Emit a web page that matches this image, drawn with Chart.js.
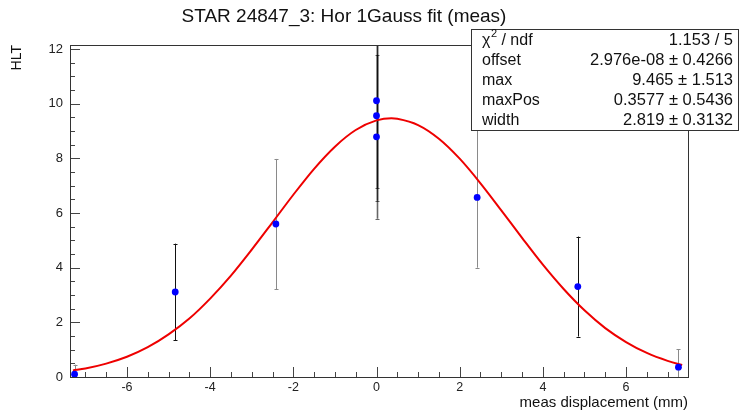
<!DOCTYPE html>
<html><head><meta charset="utf-8">
<script src="https://cdn.jsdelivr.net/npm/chart.js@4.4.0/dist/chart.umd.min.js"></script>
<style>html,body{margin:0;padding:0;background:#fff}canvas{display:block}</style>
</head><body>
<canvas id="c" width="740" height="413"></canvas>
<script>
// ---- data ----
const titleText = 'STAR 24847_3: Hor 1Gauss fit (meas)';
const xTitle = 'meas displacement (mm)';
const yTitle = 'HLT';
const measX = [-7.26, -4.84, -2.42, 0, 0, 0, 2.42, 4.84, 7.26];
const measY = [0.10, 3.11, 5.60, 10.11, 9.56, 8.79, 6.57, 3.31, 0.36];
const measErr = [0.35, 1.77, 2.38, 3.20, 3.11, 3.00, 2.57, 1.83, 0.66];
const fitX = [-7.3,-7,-6.5,-6,-5.5,-5,-4.5,-4,-3.5,-3,-2.5,-2,-1.5,-1,-0.5,0,0.36,0.5,1,1.5,2,2.5,3,3.5,4,4.5,5,5.5,6,6.5,7,7.35];
const fitY = [0.24,0.31,0.49,0.74,1.09,1.56,2.14,2.87,3.71,4.66,5.66,6.67,7.62,8.43,9.04,9.39,9.47,9.45,9.22,8.72,7.99,7.09,6.10,5.09,4.11,3.22,2.44,1.79,1.28,0.88,0.59,0.44];
const xTickLabels = ['-6','-4','-2','0','2','4','6'];
const yTickLabels = ['0','2','4','6','8','10','12'];
const statLabels = ['χ² / ndf', 'offset', 'max', 'maxPos', 'width'];
const statValues = ['1.153 / 5', '2.976e-08 ± 0.4266', '9.465 ± 1.513', '0.3577 ± 0.5436', '2.819 ± 0.3132'];

// ---- styles ----
const FONT = '"Liberation Sans", Arial, Helvetica, sans-serif';
const errColors = ['#8a8a8a','#111','#8a8a8a','rgba(0,0,0,0.6)','rgba(0,0,0,0.6)','rgba(0,0,0,0.6)','#8a8a8a','#111','#8a8a8a'];
const errWidths = [1,1,1,1.6,1.6,1.6,1,1,1];

function stepTicks(min, max, step){ const t=[]; for(let v=Math.ceil(min/step)*step; v<=max+1e-9; v+=step) t.push({value:Math.round(v*100)/100}); return t; }

const rootPlugin = {
  id: 'rootPlugin',
  beforeDatasetsDraw(chart){
    const {ctx, chartArea:a, scales:{x, y}} = chart;
    ctx.save();
    ctx.beginPath(); ctx.rect(a.left, a.top, a.right-a.left, a.bottom-a.top); ctx.clip();
    measX.forEach((xv, i) => {
      const px = Math.round(x.getPixelForValue(xv)) + 0.5;
      const lo = y.getPixelForValue(measY[i] - measErr[i]);
      const hi = y.getPixelForValue(measY[i] + measErr[i]);
      ctx.strokeStyle = errColors[i];
      ctx.lineWidth = errWidths[i];
      ctx.beginPath();
      ctx.moveTo(px, lo); ctx.lineTo(px, hi);
      ctx.stroke();
      ctx.lineWidth = 1;
      ctx.beginPath();
      ctx.moveTo(px-2, Math.round(lo)+0.5); ctx.lineTo(px+2, Math.round(lo)+0.5);
      ctx.moveTo(px-2, Math.round(hi)+0.5); ctx.lineTo(px+2, Math.round(hi)+0.5);
      ctx.stroke();
    });
    ctx.restore();
  },
  afterDatasetsDraw(chart){
    const {ctx, chartArea:a, scales:{x, y}} = chart;
    ctx.save();
    ctx.strokeStyle = '#444'; ctx.lineWidth = 1;
    ctx.beginPath();
    x.ticks.forEach(t => {
      const px = Math.round(x.getPixelForValue(t.value)) + 0.5;
      const len = xTickLabels.includes(String(t.value)) ? 10 : 5;
      ctx.moveTo(px, a.bottom); ctx.lineTo(px, a.bottom - len);
    });
    y.ticks.forEach(t => {
      const py = Math.round(y.getPixelForValue(t.value)) + 0.5;
      const len = yTickLabels.includes(String(t.value)) ? 10 : 5;
      ctx.moveTo(a.left, py); ctx.lineTo(a.left + len, py);
    });
    ctx.stroke();
    ctx.strokeStyle = '#333';
    ctx.strokeRect(Math.round(a.left)+0.5, Math.round(a.top)+0.5, Math.round(a.right-a.left), Math.round(a.bottom-a.top));
    ctx.restore();
  },
  afterDraw(chart){
    const ctx = chart.ctx;
    const bx0 = 471, by0 = 29, bx1 = chart.width - 2, by1 = 130;
    ctx.save();
    ctx.fillStyle = '#fff';
    ctx.fillRect(bx0, by0, bx1-bx0, by1-by0);
    ctx.strokeStyle = '#333'; ctx.lineWidth = 1;
    ctx.strokeRect(bx0+0.5, by0+0.5, bx1-bx0, by1-by0);
    const rowH = (by1-by0)/statLabels.length;
    ctx.fillStyle = '#111';
    ctx.textBaseline = 'middle';
    statLabels.forEach((lab, i) => {
      const cy = by0 + rowH*(i+0.5) + 1;
      ctx.font = '16px ' + FONT;
      ctx.textAlign = 'left';
      if (lab.startsWith('χ²')) {
        let xx = bx0 + 11;
        ctx.fillText('χ', xx, cy); xx += ctx.measureText('χ').width;
        ctx.font = '11px ' + FONT;
        ctx.fillText('2', xx+0.5, cy-6); xx += ctx.measureText('2').width + 0.5;
        ctx.font = '16px ' + FONT;
        ctx.fillText(lab.slice(2), xx, cy);
      } else {
        ctx.fillText(lab, bx0 + 11, cy);
      }
      ctx.font = '16.5px ' + FONT;
      ctx.textAlign = 'right';
      ctx.fillText(statValues[i], bx1 - 5, cy);
    });
    ctx.restore();
  }
};

new Chart(document.getElementById('c'), {
  type: 'scatter',
  data: {
    datasets: [
      {
        label: 'meas',
        data: measX.map((v, i) => ({x: v, y: measY[i]})),
        pointRadius: 3.4, pointBackgroundColor: '#0000ff', pointBorderColor: '#0000ff', pointBorderWidth: 0,
        showLine: false, order: 0
      },
      {
        label: 'fit',
        data: fitX.map((v, i) => ({x: v, y: fitY[i]})),
        showLine: true, pointRadius: 0, borderColor: '#ee0000', borderWidth: 2,
        cubicInterpolationMode: 'monotone', order: 1
      }
    ]
  },
  options: {
    responsive: false, animation: false, devicePixelRatio: 1,
    layout: { padding: { left: 0, right: 52, top: 0, bottom: 0 } },
    plugins: {
      legend: { display: false }, tooltip: { enabled: false },
      title: { display: true, text: titleText, color: '#111', font: { family: FONT, size: 19, weight: 'normal', lineHeight: 1.2 }, padding: { top: 5.6, bottom: 16.6 } }
    },
    scales: {
      x: {
        type: 'linear', min: -7.37, max: 7.49,
        afterBuildTicks: s => { s.ticks = stepTicks(-7.37, 7.49, 0.5); },
        afterFit: s => { s.height = 36; },
        grid: { display: false, drawTicks: false },
        border: { display: true, color: '#444', width: 1 },
        ticks: { autoSkip: false, maxRotation: 0, padding: 3, color: '#222', font: { family: FONT, size: 12.5 },
          callback: v => xTickLabels.includes(String(v)) ? String(v) : '' },
        title: { display: true, text: xTitle, align: 'end', color: '#111', font: { family: FONT, size: 15 }, padding: { top: 0, bottom: 1 } }
      },
      y: {
        type: 'linear', min: 0, max: 12.15,
        afterBuildTicks: s => { s.ticks = stepTicks(0, 12.15, 0.5); },
        afterFit: s => { s.width = 70; },
        grid: { display: false, drawTicks: false },
        border: { display: true, color: '#444', width: 1 },
        ticks: { autoSkip: false, padding: 7, color: '#222', font: { family: FONT, size: 13 },
          callback: v => yTickLabels.includes(String(v)) ? String(v) : '' },
        title: { display: true, text: yTitle, align: 'end', color: '#111', font: { family: FONT, size: 14 }, padding: { top: 9, bottom: 0 } }
      }
    }
  },
  plugins: [rootPlugin]
});
</script>
</body></html>
